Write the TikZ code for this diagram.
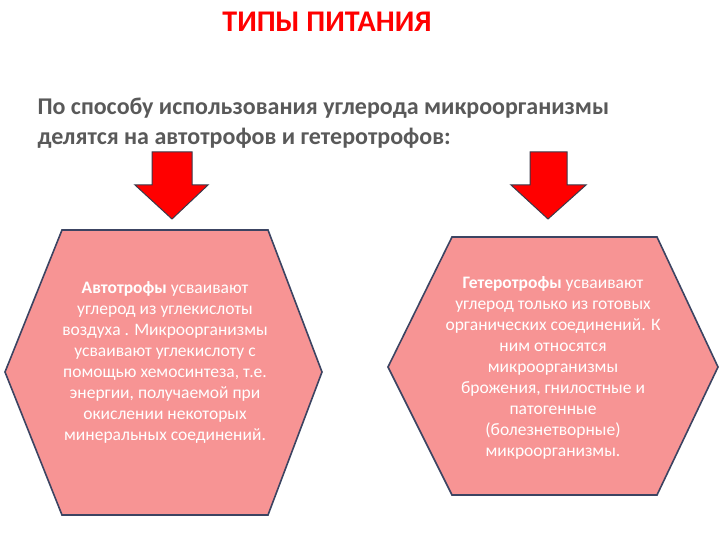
\documentclass[tikz,border=0pt]{standalone}
\usepackage{fontspec}
\setmainfont{Carlito}
\begin{document}
\begin{tikzpicture}[x=1pt,y=-1pt,
  hexa/.style={fill=hexpink,draw=hexline,line width=1.6pt,line join=miter},
  arr/.style={fill=red,draw=arrline,line width=1pt},
  body/.style={text=white,align=center,font=\fontsize{17.5}{21}\selectfont}]
\definecolor{hexpink}{HTML}{F79494}
\definecolor{hexline}{HTML}{3C4462}
\definecolor{arrline}{HTML}{3A3A4A}
\definecolor{gtext}{HTML}{595959}
\useasboundingbox (0,0) rectangle (720,540);
\node[text=red,font=\bfseries\fontsize{30}{34}\selectfont] (title) at (327,22) {ТИПЫ ПИТАНИЯ};
\node[anchor=west,text=gtext,align=left,font=\bfseries\fontsize{24}{30}\selectfont] (intro) at (34,123)
 {По способу использования углерода микроорганизмы\\делятся на автотрофов и гетеротрофов:};
\draw[arr] (152,152) -- (192,152) -- (192,185) -- (208,185) -- (172,219) -- (135,185) -- (152,185) -- cycle;
\draw[arr] (530,152) -- (567,152) -- (567,185) -- (586,185) -- (548,219) -- (511,185) -- (530,185) -- cycle;
\draw[hexa] (5,372) -- (62,230) -- (268,230) -- (322,372) -- (268,515) -- (62,515) -- cycle;
\draw[hexa] (388,367) -- (452,237) -- (657,237) -- (718,367) -- (657,495) -- (452,495) -- cycle;
\node[body] (auto) at (165,362) {\textbf{Автотрофы} усваивают\\углерод из углекислоты\\воздуха . Микроорганизмы\\усваивают углекислоту с\\помощью хемосинтеза, т.е.\\энергии, получаемой при\\окислении некоторых\\минеральных соединений.};
\node[body] (hetero) at (553,368) {\textbf{Гетеротрофы} усваивают\\углерод только из готовых\\органических соединений. К\\ним относятся\\микроорганизмы\\брожения, гнилостные и\\патогенные\\(болезнетворные)\\микроорганизмы.};
\end{tikzpicture}
\end{document}
